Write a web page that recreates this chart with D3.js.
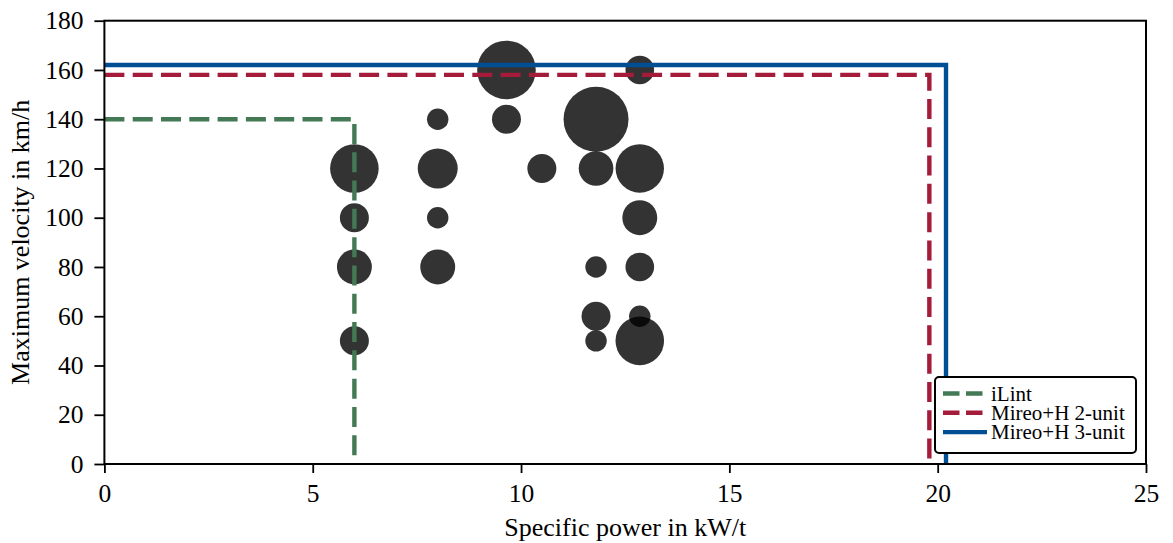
<!DOCTYPE html>
<html lang="en">
<head>
    <meta charset="UTF-8">
    <title>Specific power vs maximum velocity</title>
    <script src="https://d3js.org/d3.v7.min.js"></script>
    <style>
        body { margin: 0; background: #fff; }
        svg text { font-family: "Liberation Serif", "Times New Roman", serif !important; fill: #000; }
    </style>
</head>
<body>
<script>
    // vehicles: specific power (kW/t), max velocity (km/h), marker size (area units)
    var powerVals = [6, 6, 6, 6, 8, 8, 8, 8, 9.65, 9.65, 10.5, 11.8, 11.8, 11.8, 11.8, 11.8, 12.85, 12.85, 12.85, 12.85, 12.85, 12.85];
    var speedVals = [120, 100, 80, 50, 140, 120, 100, 80, 160, 140, 120, 140, 120, 80, 60, 50, 160, 120, 100, 80, 60, 50];
    var sizeVals = [590, 210, 305, 210, 115, 400, 115, 305, 860, 210, 210, 1055, 300, 115, 210, 115, 205, 585, 305, 205, 115, 590];

    // limit lines (step outlines)
    var lineNames = ['iLint', 'Mireo+H 2-unit', 'Mireo+H 3-unit'];
    var lineX = [[0, 6, 6], [0, 19.8, 19.8], [0, 20.2, 20.2]];
    var lineY = [[140, 140, 0], [158, 158, 0], [162, 162, 0]];
    var lineColors = ['#437a55', '#a51c3a', '#004f95'];
    var lineDash = ['20,8.3', '20,8.3', null];

    var xTicks = [0, 5, 10, 15, 20, 25];
    var yTicks = [0, 20, 40, 60, 80, 100, 120, 140, 160, 180];

    var width = 1173, height = 543;
    var margin = {top: 20.7, right: 27, bottom: 79, left: 104.4};
    var innerW = width - margin.left - margin.right;
    var innerH = height - margin.top - margin.bottom;
    var serif = '"Liberation Serif", "Times New Roman", serif';

    var svg = d3.select('body').append('svg')
        .attr('width', width)
        .attr('height', height);

    var g = svg.append('g')
        .attr('transform', 'translate(' + margin.left + ',' + margin.top + ')');

    var x = d3.scaleLinear().domain([0, 25]).range([0, innerW]);
    var y = d3.scaleLinear().domain([0, 180]).range([innerH, 0]);
    var r = d3.scaleSqrt().domain([0, 1000]).range([0, Math.sqrt(1000)]);

    // clip
    svg.append('defs').append('clipPath').attr('id', 'clip')
        .append('rect').attr('width', innerW).attr('height', innerH);

    var plot = g.append('g').attr('clip-path', 'url(#clip)');

    // bubbles
    plot.selectAll('circle')
        .data(powerVals)
        .enter().append('circle')
        .attr('cx', function(d) { return x(d); })
        .attr('cy', function(d, i) { return y(speedVals[i]); })
        .attr('r', function(d, i) { return r(sizeVals[i]); })
        .attr('fill', '#000')
        .attr('fill-opacity', 0.8);

    // limit lines
    var line = d3.line()
        .x(function(d) { return x(d[0]); })
        .y(function(d) { return y(d[1]); });

    lineNames.forEach(function(name, k) {
        var pts = lineX[k].map(function(v, j) { return [v, lineY[k][j]]; });
        plot.append('path')
            .datum(pts)
            .attr('d', line)
            .attr('fill', 'none')
            .attr('stroke', lineColors[k])
            .attr('stroke-width', 4.4)
            .attr('stroke-dasharray', lineDash[k]);
    });

    // axes
    var xAxis = g.append('g')
        .attr('transform', 'translate(0,' + innerH + ')')
        .call(d3.axisBottom(x).tickValues(xTicks).tickSizeInner(9).tickSizeOuter(0).tickPadding(11));
    var yAxis = g.append('g')
        .call(d3.axisLeft(y).tickValues(yTicks).tickSizeInner(10).tickSizeOuter(0).tickPadding(11));

    [xAxis, yAxis].forEach(function(a) {
        a.attr('font-family', serif).attr('font-size', 25.5);
        a.select('.domain').remove();
        a.selectAll('line').attr('stroke', '#000').attr('stroke-width', 1.8);
        a.selectAll('text').attr('fill', '#000').style('font-family', serif).style('font-size', '25.5px');
    });

    // frame
    g.append('rect')
        .attr('width', innerW).attr('height', innerH)
        .attr('fill', 'none').attr('stroke', '#000').attr('stroke-width', 2);

    // axis labels
    svg.append('text')
        .attr('x', margin.left + innerW / 2)
        .attr('y', 536)
        .attr('text-anchor', 'middle')
        .style('font-family', serif)
        .style('font-size', '26px')
        .text('Specific power in kW/t');

    svg.append('text')
        .attr('transform', 'translate(29,' + (margin.top + innerH / 2) + ') rotate(-90)')
        .attr('text-anchor', 'middle')
        .style('font-family', serif)
        .style('font-size', '26px')
        .text('Maximum velocity in km/h');

    // legend
    var leg = svg.append('g').attr('transform', 'translate(935,377)');
    leg.append('rect')
        .attr('width', 201).attr('height', 76)
        .attr('rx', 4).attr('ry', 4)
        .attr('fill', '#fff').attr('stroke', '#000').attr('stroke-width', 2);

    lineNames.forEach(function(name, k) {
        var yy = 16.5 + k * 19.3;
        leg.append('line')
            .attr('x1', 8).attr('x2', 52)
            .attr('y1', yy).attr('y2', yy)
            .attr('stroke', lineColors[k])
            .attr('stroke-width', 4.4)
            .attr('stroke-dasharray', lineDash[k] ? '16.5,6.5' : null);
        leg.append('text')
            .attr('x', 56).attr('y', yy + 7)
            .style('font-family', serif)
            .style('font-size', '21px')
            .text(name);
    });
</script>
</body>
</html>
